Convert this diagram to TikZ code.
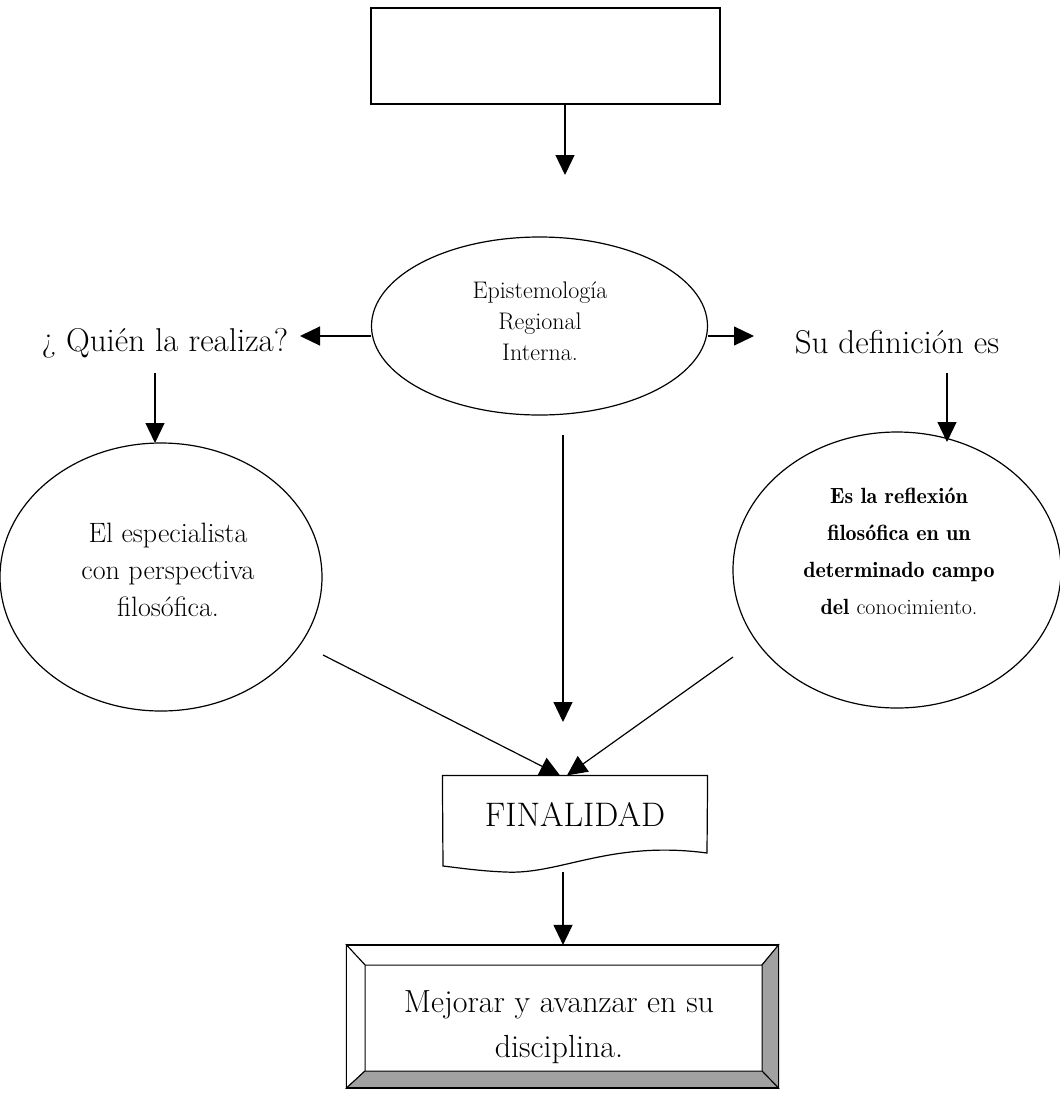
\documentclass[tikz,border=0pt]{standalone}
\usetikzlibrary{shapes.geometric,arrows.meta}
\begin{document}
\begin{tikzpicture}[x=1pt,y=-1pt,line width=1.2pt,
  arr/.style={-{Triangle[length=20pt,width=19pt]}},
  big/.style={font=\fontsize{33}{38}\selectfont, inner sep=0pt},
  oval/.style={draw, ellipse, inner sep=0pt},
  ovaltxt/.style={align=center, inner sep=0pt},
  demi/.style={font=\fontsize{22}{37}\fontseries{b}\selectfont},
  bevelshade/.style={fill=black!37, draw=black, line width=1pt},
  bevellight/.style={fill=white, draw=black, line width=1pt}]
\useasboundingbox (0,0) rectangle (1060,1093);

% empty title box
\node[draw, minimum width=349pt, minimum height=96pt, inner sep=0pt] (topbox) at (545.5,56) {};
\coordinate (topOut) at (565,175);
\draw[arr] (topbox.south -| topOut) -- (topOut);

% central oval
\node[oval, minimum width=336pt, minimum height=178pt] (epi) at (539.5,326) {};
\node[ovaltxt, font=\fontsize{24}{31}\selectfont] (epitxt) at (540,321) {Epistemología\\Regional\\Interna.};

% side labels
\node[big] (quien) at (165,343) {¿ Quién la realiza?};
\node[big] (sudef) at (897,342) {Su definición es};
\coordinate (qTip) at (300,336);
\coordinate (sTip) at (754,336);
\draw[arr] (epi.west |- qTip) -- (qTip);
\draw[arr] (epi.east |- sTip) -- (sTip);

% left and right ovals
\node[oval, minimum width=322pt, minimum height=268pt] (circL) at (161,577) {};
\node[ovaltxt, font=\fontsize{28}{37}\selectfont] (circLtxt) at (168,570) {El especialista\\con perspectiva\\filosófica.};
\node[oval, minimum width=328pt, minimum height=276pt] (circR) at (897,570) {};
\node[ovaltxt, demi] (circRtxt) at (899,551)
  {Es la reflexión\\filosófica en un\\determinado campo\\del {\fontseries{m}\selectfont conocimiento.}};

\coordinate (qDown) at (155,373);
\coordinate (qTipL) at (155,443);
\draw[arr] (qDown) -- (qTipL);
\coordinate (sDown) at (947,373);
\coordinate (sTipR) at (947,442);
\draw[arr] (sDown) -- (sTipR);

% FINALIDAD document shape
\node[font=\fontsize{34}{40}\selectfont, inner sep=0pt, minimum width=264pt, minimum height=77pt] (fin) at (575,814.5) {FINALIDAD};
\draw (fin.north west) -- (fin.north east) -- (707,853)
  .. controls (610,840) and (560,875) .. (505,872)
  .. controls (480,871) and (460,868) .. (443,866) -- cycle;

\coordinate (mStart) at (563,435);
\coordinate (mTip) at (563,722);
\draw[arr] (mStart) -- (mTip);
\coordinate (lStart) at (323,655);
\coordinate (rStart) at (733,657);
\draw[arr] (lStart) -- ([xshift=-15pt]fin.north);
\draw[arr] (rStart) -- ([xshift=-8pt]fin.north);

% bevelled result box
\node[minimum width=431pt, minimum height=142pt, inner sep=0pt] (bev) at (562.5,1016.5) {};
\coordinate (bi1) at (365,965);
\coordinate (bi2) at (762,965);
\coordinate (bi3) at (762,1071);
\coordinate (bi4) at (365,1071);
\filldraw[bevellight] (bev.north west) -- (bev.north east) -- (bi2) -- (bi1) -- cycle;
\filldraw[bevellight] (bev.north west) -- (bi1) -- (bi4) -- (bev.south west) -- cycle;
\filldraw[bevelshade] (bev.north east) -- (bev.south east) -- (bi3) -- (bi2) -- cycle;
\filldraw[bevelshade] (bev.south west) -- (bi4) -- (bi3) -- (bev.south east) -- cycle;
\draw[line width=1.4pt] (bev.north west) rectangle (bev.south east);
\node[ovaltxt, font=\fontsize{32}{45}\selectfont] (bevtxt) at (559,1027) {Mejorar y avanzar en su\\disciplina.};

\coordinate (finOut) at (563,872);
\draw[arr] (finOut) -- (bev.north -| finOut);
\end{tikzpicture}
\end{document}
